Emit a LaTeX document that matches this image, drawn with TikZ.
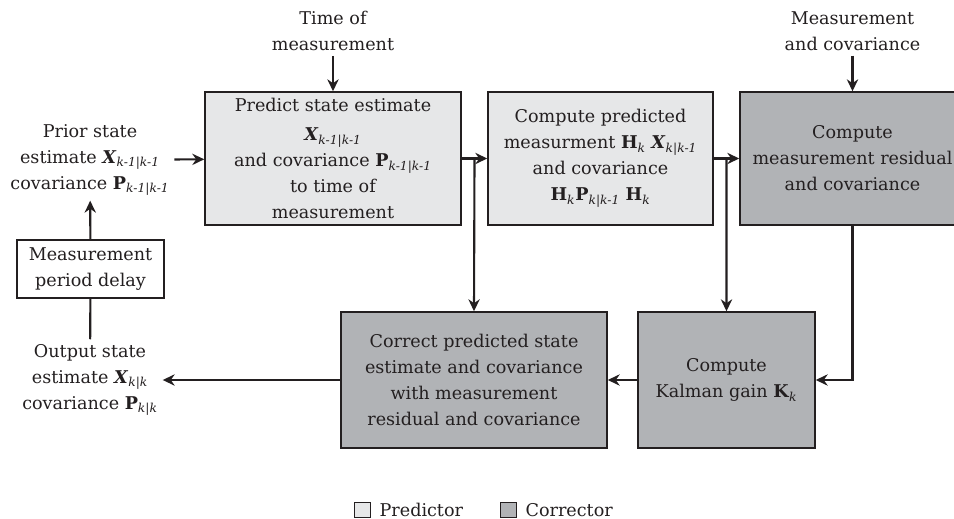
\documentclass[tikz,border=0pt]{standalone}
\usepackage{fontspec}
\setmainfont{DejaVu Serif}
\usepackage{tikz}
\usetikzlibrary{arrows.meta,positioning,calc}
\definecolor{predgray}{HTML}{E6E7E8}
\definecolor{corrgray}{HTML}{B1B3B6}
\definecolor{inkline}{HTML}{231F20}
\newcommand{\vX}{\textbf{\textit{X}}}
\newcommand{\mP}{\textbf{P}}
\newcommand{\mH}{\textbf{H}}
\newcommand{\mK}{\textbf{K}}
\newcommand{\idx}[1]{\textsubscript{\textit{#1}}}

\begin{document}
\begin{tikzpicture}[
  x=0.025cm, y=-0.025cm,
  every node/.style={align=center, font=\fontsize{12.5}{18.5}\selectfont, text=inkline},
  pred/.style={draw=inkline, line width=1pt, fill=predgray, minimum height=3.325cm},
  corr/.style={draw=inkline, line width=1pt, fill=corrgray, minimum height=3.4cm},
  plain/.style={draw=inkline, line width=1pt, fill=white, inner sep=2pt},
  legbox/.style={draw=inkline, line width=0.8pt, minimum size=0.38cm, inner sep=0pt},
  flow/.style={draw=inkline, line width=1.5pt, -{Stealth[length=8.5pt,width=8pt]}},
  link/.style={draw=inkline, line width=1.5pt}
]
\clip (0,0) rectangle (954,519);

% predictor / corrector blocks
\node[pred, minimum width=6.4cm] (predict) at (333,158.5)
  {Predict state estimate\\[2pt] \vX\idx{k-1|k-1}\\ and covariance \mP\idx{k-1|k-1}\\ to time of\\ measurement};
\node[pred, minimum width=5.625cm] (cpred) at (600.5,158.5)
  {Compute predicted\\ measurment \mH\idx{k} \vX\idx{k|k-1}\\ and covariance\\ \mH\idx{k}\mP\idx{k|k-1} \mH\idx{k}};
\node[corr, minimum width=5.625cm, minimum height=3.325cm] (resid) at (852.5,158.5)
  {Compute\\ measurement residual\\ and covariance};
\node[corr, minimum width=4.425cm] (kalman) at (726.5,380)
  {Compute\\ Kalman gain \mK\idx{k}};
\node[corr, minimum width=6.65cm] (correct) at (474,380)
  {Correct predicted state\\ estimate and covariance\\ with measurement\\ residual and covariance};

% inputs and outputs
\node (tmeas) at (333,31) {Time of\\ measurement};
\node (mcov) at (852.5,31) {Measurement\\ and covariance};
\node (prior) at (90,160) {Prior state\\ estimate \vX\idx{k-1|k-1}\\ covariance \mP\idx{k-1|k-1}};
\node (output) at (90,380) {Output state\\ estimate \vX\idx{k|k}\\ covariance \mP\idx{k|k}};
\node[plain, minimum width=3.675cm, minimum height=1.45cm] (delay) at (90.5,269) {Measurement\\ period delay};

% connectors
\draw[flow] (tmeas) -- (predict);
\draw[flow] (mcov) -- (resid);
\draw[flow] (prior) -- (predict);
\draw[flow] (predict) -- (cpred);
\draw[flow] (cpred) -- (resid);
\draw[flow] ($(predict.east)!0.5!(cpred.west)$) -- (correct.north);
\draw[flow] ($(cpred.east)!0.5!(resid.west)$) -- (kalman.north);
\draw[flow] (resid.south) |- (kalman.east);
\draw[flow] (kalman) -- (correct);
\draw[flow] (correct) -- (output);
\draw[flow] (delay) -- (prior);
\draw[link] (delay) -- (output);

% legend
\node[legbox, fill=predgray] (legp) at (362.5,510) {};
\node[right=0.1cm of legp] (legptxt) {Predictor};
\node[legbox, fill=corrgray] (legc) at (508.5,510) {};
\node[right=0.1cm of legc] (legctxt) {Corrector};
\end{tikzpicture}
\end{document}
